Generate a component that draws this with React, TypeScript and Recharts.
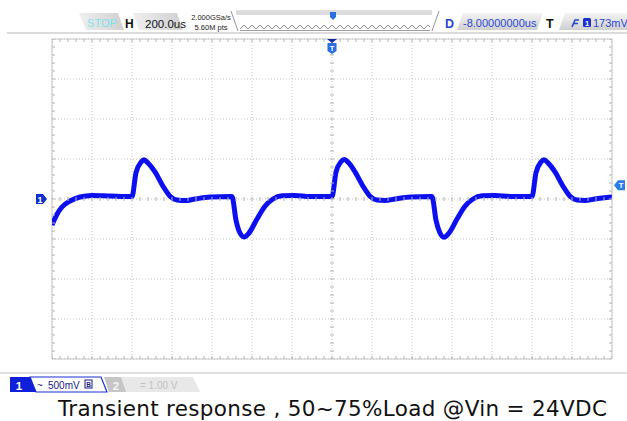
import React from 'react';
import {
  ComposedChart,
  Line,
  Scatter,
  XAxis,
  YAxis,
  CartesianGrid,
  ReferenceArea,
  ReferenceDot,
} from 'recharts';

// ---- data (time in microseconds, channel 1 in millivolts) ----
const timeUs = [
  0, 25, 50, 90, 140, 200, 290, 395,
  400, 420, 445, 460, 480, 515, 555, 590, 625, 665, 715, 790, 895,
  900, 920, 940, 960, 985, 1025, 1065, 1105, 1150, 1215, 1290, 1395,
  1400, 1420, 1445, 1462, 1482, 1515, 1555, 1590, 1625, 1665, 1715, 1790, 1895,
  1900, 1920, 1940, 1960, 1985, 2025, 2065, 2105, 2150, 2215, 2290, 2395,
  2400, 2420, 2445, 2460, 2480, 2515, 2555, 2590, 2625, 2665, 2715, 2800,
];
const voltageMv = [
  -325, -190, -100, -25, 25, 45, 38, 30,
  30, 330, 460, 490, 450, 340, 160, 35, -12, -20, 0, 25, 30,
  30, -265, -425, -475, -425, -250, -90, 0, 40, 45, 30, 30,
  30, 335, 465, 495, 455, 340, 160, 35, -12, -18, 0, 25, 30,
  30, -265, -425, -478, -425, -250, -90, 0, 40, 44, 32, 30,
  30, 330, 462, 492, 452, 340, 160, 35, -12, -18, 0, 25,
];
const xDivTicks = [0, 200, 400, 600, 800, 1000, 1200, 1400, 1600, 1800, 2000, 2200, 2400, 2600, 2800];
const yDivTicks = [-2000, -1500, -1000, -500, 0, 500, 1000, 1500, 2000];
const xMinorStep = 40;
const yMinorStep = 100;
const triggerLevelMv = 173;
const triggerTimeUs = 1400;
const titleText = 'Transient response , 50~75%Load @Vin = 24VDC';

const X_MIN = xDivTicks[0];
const X_MAX = xDivTicks[xDivTicks.length - 1];
const Y_MIN = yDivTicks[0];
const Y_MAX = yDivTicks[yDivTicks.length - 1];
const X_MID = (X_MIN + X_MAX) / 2;

const trace = timeUs.map((t, i) => ({ t, v: voltageMv[i] }));

const minorX: number[] = [];
for (let t = X_MIN; t <= X_MAX; t += xMinorStep) minorX.push(t);
const minorY: number[] = [];
for (let v = Y_MIN; v <= Y_MAX; v += yMinorStep) minorY.push(v);

const topTicks = minorX.map((t) => ({ t, v: Y_MAX }));
const bottomTicks = minorX.map((t) => ({ t, v: Y_MIN }));
const midHTicks = minorX.map((t) => ({ t, v: 0 }));
const leftTicks = minorY.map((v) => ({ t: X_MIN, v }));
const rightTicks = minorY.map((v) => ({ t: X_MAX, v }));
const midVTicks = minorY.map((v) => ({ t: X_MID, v }));

const TICK = '#b4b4b4';
const vTick = (a: number, b: number) => (p: any) => (
  <line x1={p.cx} x2={p.cx} y1={p.cy + a} y2={p.cy + b} stroke={TICK} strokeWidth={1} />
);
const hTick = (a: number, b: number) => (p: any) => (
  <line x1={p.cx + a} x2={p.cx + b} y1={p.cy} y2={p.cy} stroke={TICK} strokeWidth={1} />
);

const ch1Marker = (p: any) => (
  <g>
    <polygon
      points={`${p.cx - 16},${p.cy - 5} ${p.cx - 9},${p.cy - 5} ${p.cx - 5},${p.cy} ${p.cx - 9},${p.cy + 5} ${p.cx - 16},${p.cy + 5}`}
      fill="#1030d0"
    />
    <text x={p.cx - 12} y={p.cy + 3.5} fontSize={9} fill="#fff" textAnchor="middle" fontFamily="Liberation Sans" fontWeight="bold">1</text>
  </g>
);
const trigLevelMarker = (p: any) => (
  <g>
    <polygon
      points={`${p.cx + 2},${p.cy} ${p.cx + 6},${p.cy - 5} ${p.cx + 13},${p.cy - 5} ${p.cx + 13},${p.cy + 5} ${p.cx + 6},${p.cy + 5}`}
      fill="#2a7de8"
    />
    <text x={p.cx + 9} y={p.cy + 3} fontSize={7.5} fill="#fff" textAnchor="middle" fontFamily="Liberation Sans" fontWeight="bold">T</text>
  </g>
);
const trigTimeMarker = (p: any) => (
  <g>
    <polygon points={`${p.cx - 5},${p.cy} ${p.cx + 5},${p.cy} ${p.cx},${p.cy + 4}`} fill="#1828a0" />
    <path
      d={`M${p.cx - 4.5},${p.cy + 4} L${p.cx + 4.5},${p.cy + 4} L${p.cx + 4.5},${p.cy + 12} L${p.cx},${p.cy + 15} L${p.cx - 4.5},${p.cy + 12} Z`}
      fill="#2a6ee0"
    />
    <text x={p.cx} y={p.cy + 12} fontSize={7.5} fill="#fff" textAnchor="middle" fontFamily="Liberation Sans" fontWeight="bold">T</text>
  </g>
);

const Header = () => (
  <g fontFamily="Liberation Sans, Arial, sans-serif">
    <defs>
      <linearGradient id="boxg" x1="0" y1="0" x2="0" y2="1">
        <stop offset="0" stopColor="#f4f4f4" />
        <stop offset="1" stopColor="#cfcfcf" />
      </linearGradient>
      <linearGradient id="boxh" x1="0" y1="0" x2="1" y2="0">
        <stop offset="0" stopColor="#efefef" />
        <stop offset="1" stopColor="#d0d0d0" />
      </linearGradient>
      <pattern id="zig" width="8" height="6" patternUnits="userSpaceOnUse">
        <path d="M0,5 L4,1 L8,5" fill="none" stroke="#777" strokeWidth="0.8" />
      </pattern>
    </defs>
    {/* STOP */}
    <polygon points="79,13 118,13 124,30 86,30" fill="url(#boxh)" />
    <text x={102} y={27} fontSize={11} fill="#7de3ee" textAnchor="middle">STOP</text>
    <text x={125} y={27.5} fontSize={12} fontWeight="bold" fill="#111">H</text>
    {/* timebase */}
    <polygon points="133,13 177,13 183,30 139,30" fill="url(#boxh)" />
    <text x={145} y={27.5} fontSize={11.5} fill="#111">200.0us</text>
    <text x={211} y={20} fontSize={7.5} fill="#222" textAnchor="middle">2.000GSa/s</text>
    <text x={211} y={30} fontSize={7.5} fill="#222" textAnchor="middle">5.60M pts</text>
    {/* memory bar */}
    <line x1={231} y1={11} x2={238} y2={31} stroke="#999" strokeWidth={1} />
    <rect x={236} y={10} width={196} height={5} fill="#dcdcdc" />
    <rect x={240} y={24} width={190} height={6} fill="url(#zig)" />
    <line x1={240} y1={30.5} x2={430} y2={30.5} stroke="#888" strokeWidth={0.8} />
    <line x1={432} y1={31} x2={439} y2={11} stroke="#999" strokeWidth={1} />
    <path d="M330,12 L336,12 L336,17 L333,20 L330,17 Z" fill="#2a6ee0" />
    {/* delay */}
    <text x={445} y={27.5} fontSize={12.5} fontWeight="bold" fill="#2a46d6">D</text>
    <polygon points="463,13 543,13 537,30 457,30" fill="url(#boxg)" />
    <text x={463} y={27} fontSize={11} fill="#2a46d6">-8.00000000us</text>
    <text x={546} y={27.5} fontSize={12.5} fontWeight="bold" fill="#111">T</text>
    {/* trigger */}
    <polygon points="565,13 627,13 627,30 559,30" fill="url(#boxg)" />
    <path d="M572,27 L575,20 L579,20 M573,23.5 L578,23.5" fill="none" stroke="#2a46d6" strokeWidth={1.6} />
    <rect x={583} y={18} width={8} height={9} rx={1.5} fill="#1a2fd0" />
    <text x={587} y={25.5} fontSize={7.5} fill="#fff" textAnchor="middle" fontWeight="bold">1</text>
    <text x={593} y={27} fontSize={11} fill="#2a46d6">173mV</text>
    <line x1={7} y1={33} x2={627} y2={33} stroke="#cfcfcf" strokeWidth={1.5} />
  </g>
);

const Footer = () => (
  <g fontFamily="Liberation Sans, Arial, sans-serif">
    <line x1={0} y1={373} x2={627} y2={373} stroke="#d2d2d2" strokeWidth={1.5} />
    {/* channel 2 (behind) */}
    <polygon points="104,377 193,377 200,392 109,392" fill="#e8e8e8" />
    <polygon points="104,377 121,377 126,392 109,392" fill="#c6c6c6" />
    <text x={116} y={390} fontSize={11.5} fill="#f4f4f4" fontWeight="bold" textAnchor="middle">2</text>
    <text x={140} y={389} fontSize={10} fill="#c2c2c2">= 1.00 V</text>
    {/* channel 1 */}
    <polygon points="30,377 101,377 107,392 36,392" fill="#fff" stroke="#1a2fd8" strokeWidth={1.2} />
    <polygon points="10,377 30,377 36,392 10,392" fill="#1020d8" />
    <text x={19} y={390} fontSize={11.5} fill="#fff" fontWeight="bold" textAnchor="middle">1</text>
    <text x={37} y={389} fontSize={10} fill="#1a1a8a">~</text>
    <text x={48} y={389} fontSize={10} fill="#1a1a8a">500mV</text>
    <rect x={85} y={380} width={7} height={8} fill="#fff" stroke="#1a1a8a" strokeWidth={1} />
    <text x={88.5} y={387} fontSize={6.5} fill="#1a1a8a" textAnchor="middle" fontWeight="bold">B</text>
    {/* title */}
    <text
      x={58}
      y={416}
      fontSize={21.5}
      fill="#111"
      textLength={549}
      lengthAdjust="spacing"
      fontFamily="DejaVu Sans, Verdana, sans-serif"
    >
      {titleText}
    </text>
  </g>
);

export default function App() {
  return (
    <div style={{ position: 'absolute', left: 0, top: 0, width: 627, height: 421, background: '#fff' }}>
      <ComposedChart
        width={627}
        height={421}
        margin={{ top: 39, right: 15, bottom: 62, left: 52 }}
        style={{ position: 'absolute', left: 0, top: 0 }}
      >
        <XAxis
          dataKey="t"
          type="number"
          domain={[X_MIN, X_MAX]}
          ticks={xDivTicks}
          allowDataOverflow
          hide
        />
        <YAxis
          dataKey="v"
          type="number"
          domain={[Y_MIN, Y_MAX]}
          ticks={yDivTicks}
          allowDataOverflow
          hide
        />
        <CartesianGrid stroke="#c4c4c4" strokeDasharray="1 2" />
        <ReferenceArea x1={X_MIN} x2={X_MAX} y1={Y_MIN} y2={Y_MAX} fill="none" fillOpacity={0} stroke="#c8c8c8" strokeWidth={1} />
        <Scatter data={topTicks} shape={vTick(0, 3)} isAnimationActive={false} />
        <Scatter data={bottomTicks} shape={vTick(-3, 0)} isAnimationActive={false} />
        <Scatter data={midHTicks} shape={vTick(-2, 2)} isAnimationActive={false} />
        <Scatter data={leftTicks} shape={hTick(0, 3)} isAnimationActive={false} />
        <Scatter data={rightTicks} shape={hTick(-3, 0)} isAnimationActive={false} />
        <Scatter data={midVTicks} shape={hTick(-2, 2)} isAnimationActive={false} />
        <Line
          data={trace}
          dataKey="v"
          type="monotone"
          stroke="#0c10f0"
          strokeWidth={5}
          dot={false}
          activeDot={false}
          isAnimationActive={false}
        />
        <ReferenceDot x={X_MIN} y={0} ifOverflow="visible" shape={ch1Marker} />
        <ReferenceDot x={X_MAX} y={triggerLevelMv} ifOverflow="visible" shape={trigLevelMarker} />
        <ReferenceDot x={triggerTimeUs} y={Y_MAX} ifOverflow="visible" shape={trigTimeMarker} />
      </ComposedChart>
      <svg width={627} height={421} style={{ position: 'absolute', left: 0, top: 0, pointerEvents: 'none' }}>
        <Header />
        <Footer />
      </svg>
    </div>
  );
}
